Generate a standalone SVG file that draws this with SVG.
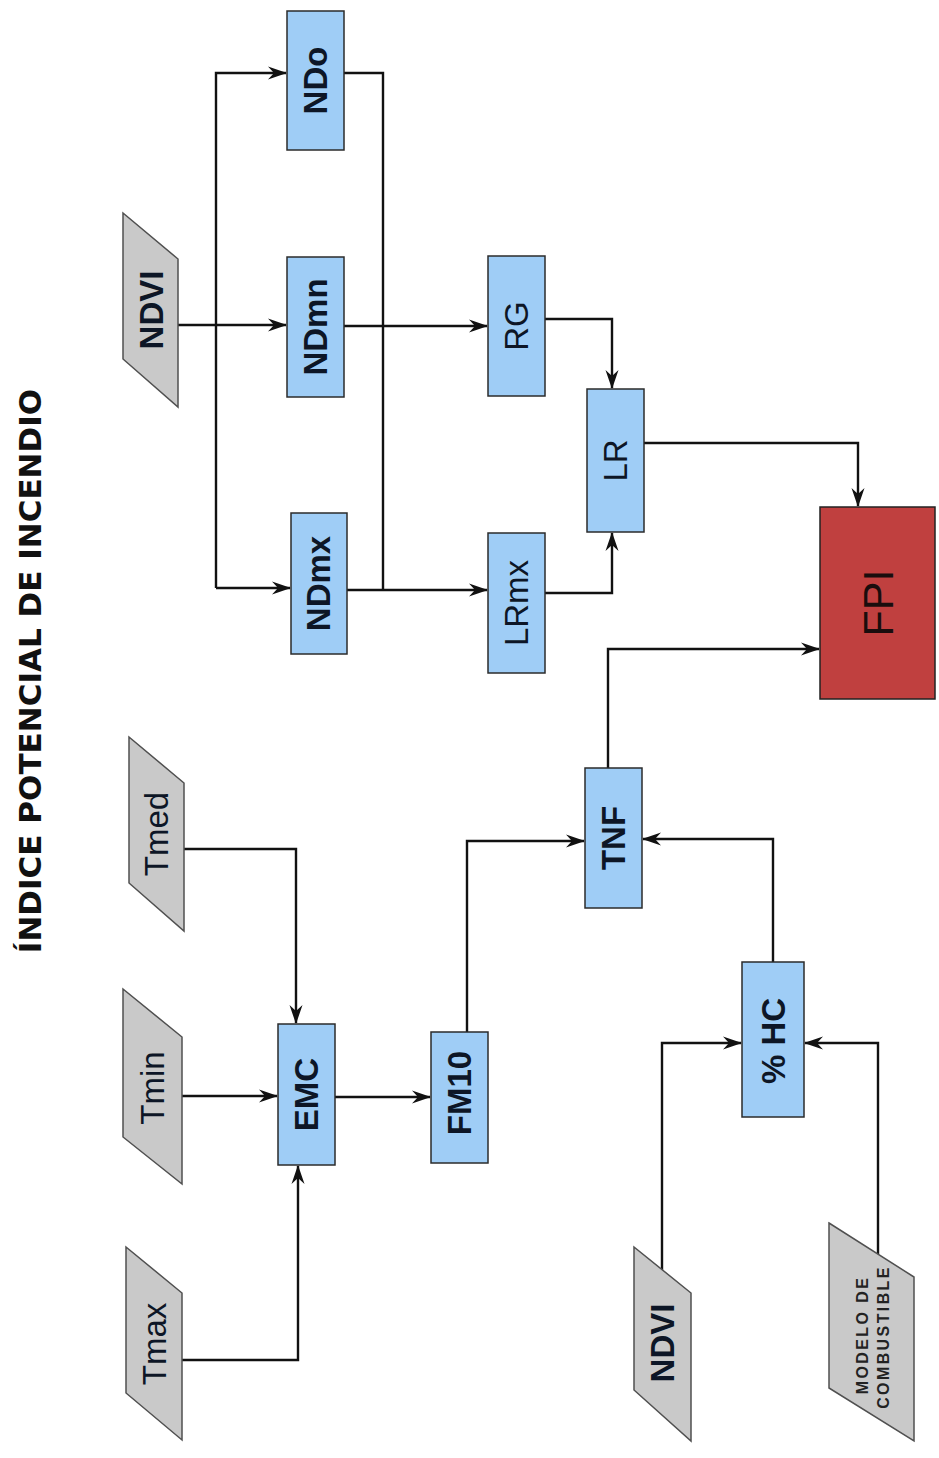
<svg xmlns="http://www.w3.org/2000/svg" width="939" height="1458" viewBox="0 0 939 1458">
<style>
.box{fill:#9fcdf6;stroke:#2b2b2b;stroke-width:1.5}
.io{fill:#c9c9c9;stroke:#505050;stroke-width:1.5}
.out{fill:#c0403f;stroke:#222;stroke-width:1.5}
.lbl{font-family:"Liberation Sans",Arial,sans-serif;font-size:33px;fill:#0d1626;text-anchor:middle}
.b{font-weight:bold}
.title{font-family:"DejaVu Sans",sans-serif;font-weight:bold;font-size:31px;fill:#111;text-anchor:middle}
.small{font-family:"Liberation Sans",Arial,sans-serif;font-weight:bold;font-size:16px;letter-spacing:2.4px;fill:#222;text-anchor:middle}
.c{fill:none;stroke:#111;stroke-width:2.4}
</style>
<defs>
<marker id="ar" markerWidth="20" markerHeight="14" refX="18" refY="7" orient="auto" markerUnits="userSpaceOnUse">
<path d="M0,0.5 L19,7 L0,13.5 L6,7 Z" fill="#111"/>
</marker>
</defs>
<rect width="939" height="1458" fill="#fff"/>
<text class="title" transform="translate(41,671) rotate(-90)">ÍNDICE POTENCIAL DE INCENDIO</text>

<g id="connectors">
<path class="c" d="M178,325 H286" marker-end="url(#ar)"/>
<path class="c" d="M216,588 V73 H286" marker-end="url(#ar)"/>
<path class="c" d="M216,588 H290" marker-end="url(#ar)"/>
<path class="c" d="M344,73 H383 V590"/>
<path class="c" d="M347,590 H487" marker-end="url(#ar)"/>
<path class="c" d="M344,326 H487" marker-end="url(#ar)"/>
<path class="c" d="M545,319 H612 V388" marker-end="url(#ar)"/>
<path class="c" d="M545,593 H612 V533" marker-end="url(#ar)"/>
<path class="c" d="M644,443 H858 V506" marker-end="url(#ar)"/>
<path class="c" d="M608,768 V649 H819" marker-end="url(#ar)"/>
<path class="c" d="M184,849 H296 V1023" marker-end="url(#ar)"/>
<path class="c" d="M182,1096 H277" marker-end="url(#ar)"/>
<path class="c" d="M182,1360 H298 V1166" marker-end="url(#ar)"/>
<path class="c" d="M335,1097 H430" marker-end="url(#ar)"/>
<path class="c" d="M467,1032 V841 H584" marker-end="url(#ar)"/>
<path class="c" d="M773,962 V839 H643" marker-end="url(#ar)"/>
<path class="c" d="M662,1270 V1043 H741" marker-end="url(#ar)"/>
<path class="c" d="M878,1254 V1043 H805" marker-end="url(#ar)"/>
</g>

<g id="ndvi-top">
<polygon class="io" points="123,213 178,259 178,407 123,359"/>
<text class="lbl b" transform="translate(163,310) rotate(-90)">NDVI</text>
</g>
<g id="ndo">
<rect class="box" x="287" y="11" width="57" height="139"/>
<text class="lbl b" transform="translate(327,80.5) rotate(-90)">NDo</text>
</g>
<g id="ndmn">
<rect class="box" x="287" y="257" width="57" height="140"/>
<text class="lbl b" transform="translate(327,327) rotate(-90)">NDmn</text>
</g>
<g id="ndmx">
<rect class="box" x="291" y="513" width="56" height="141"/>
<text class="lbl b" transform="translate(330,583.5) rotate(-90)">NDmx</text>
</g>
<g id="rg">
<rect class="box" x="488" y="256" width="57" height="140"/>
<text class="lbl" transform="translate(528,326) rotate(-90)">RG</text>
</g>
<g id="lrmx">
<rect class="box" x="488" y="533" width="57" height="140"/>
<text class="lbl" transform="translate(528,603) rotate(-90)">LRmx</text>
</g>
<g id="lr">
<rect class="box" x="587" y="389" width="57" height="143"/>
<text class="lbl" transform="translate(627,460.5) rotate(-90)">LR</text>
</g>
<g id="fpi">
<rect class="out" x="820" y="507" width="115" height="192"/>
<text class="lbl" style="font-size:43px;fill:#1a0d0d" transform="translate(893,603) rotate(-90)">FPI</text>
</g>
<g id="tmed">
<polygon class="io" points="129,737 184,783 184,931 129,883"/>
<text class="lbl" transform="translate(168,834) rotate(-90)">Tmed</text>
</g>
<g id="tmin">
<polygon class="io" points="123,989 182,1037 182,1184 123,1137"/>
<text class="lbl" transform="translate(164,1088) rotate(-90)">Tmin</text>
</g>
<g id="tmax">
<polygon class="io" points="126,1247 182,1293 182,1440 126,1393"/>
<text class="lbl" transform="translate(166,1344) rotate(-90)">Tmax</text>
</g>
<g id="emc">
<rect class="box" x="278" y="1024" width="57" height="141"/>
<text class="lbl b" transform="translate(318,1094.5) rotate(-90)">EMC</text>
</g>
<g id="fm10">
<rect class="box" x="431" y="1032" width="57" height="131"/>
<text class="lbl b" transform="translate(471,1093) rotate(-90)">FM10</text>
</g>
<g id="tnf">
<rect class="box" x="585" y="768" width="57" height="140"/>
<text class="lbl b" transform="translate(625,838) rotate(-90)">TNF</text>
</g>
<g id="hc">
<rect class="box" x="742" y="962" width="62" height="155"/>
<text class="lbl b" transform="translate(785,1041) rotate(-90)">% HC</text>
</g>
<g id="ndvi-bottom">
<polygon class="io" points="634,1247 691,1293 691,1441 634,1390"/>
<text class="lbl b" transform="translate(674,1343) rotate(-90)">NDVI</text>
</g>
<g id="modelo">
<polygon class="io" points="829,1223 914,1277 914,1441 829,1388"/>
<text class="small" transform="translate(868,1335) rotate(-90)">MODELO DE</text>
<text class="small" transform="translate(889,1337) rotate(-90)">COMBUSTIBLE</text>
</g>
</svg>
